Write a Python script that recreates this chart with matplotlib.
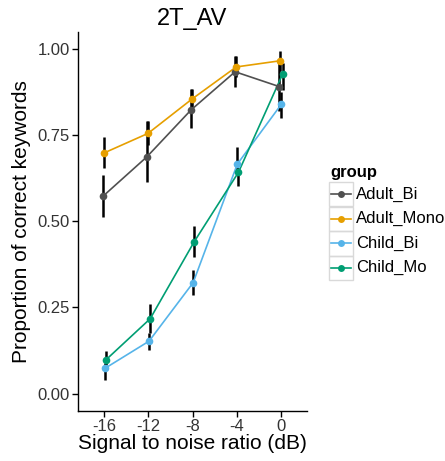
import numpy as np
import matplotlib
matplotlib.use("Agg")
import matplotlib.pyplot as plt
from matplotlib.lines import Line2D
from matplotlib.patches import Rectangle

plt.rcParams["font.family"] = ["Liberation Sans", "DejaVu Sans"]

snr = np.array([-16, -12, -8, -4, 0])
groups = ["Adult_Bi", "Adult_Mono", "Child_Bi", "Child_Mo"]
colors = ["#505050", "#E69F00", "#56B4E9", "#009E73"]
dodge = [-0.15, -0.05, 0.05, 0.15]

mean_adult_bi = [0.572, 0.687, 0.823, 0.934, 0.891]
mean_adult_mono = [0.698, 0.755, 0.855, 0.948, 0.966]
mean_child_bi = [0.073, 0.152, 0.322, 0.666, 0.840]
mean_child_mo = [0.098, 0.217, 0.441, 0.642, 0.927]

lo_adult_bi = [0.512, 0.613, 0.771, 0.890, 0.820]
hi_adult_bi = [0.634, 0.792, 0.884, 0.980, 0.966]
lo_adult_mono = [0.654, 0.720, 0.830, 0.920, 0.937]
hi_adult_mono = [0.745, 0.792, 0.885, 0.980, 0.995]
lo_child_bi = [0.039, 0.125, 0.285, 0.647, 0.800]
hi_child_bi = [0.088, 0.176, 0.360, 0.716, 0.874]
lo_child_mo = [0.082, 0.175, 0.396, 0.603, 0.880]
hi_child_mo = [0.123, 0.259, 0.485, 0.656, 0.960]

means = [mean_adult_bi, mean_adult_mono, mean_child_bi, mean_child_mo]
lows = [lo_adult_bi, lo_adult_mono, lo_child_bi, lo_child_mo]
highs = [hi_adult_bi, hi_adult_mono, hi_child_bi, hi_child_mo]

fig = plt.figure(figsize=(4.45, 4.61), dpi=100)
ax = fig.add_axes([0.176, 0.109, 0.513, 0.822])

for m, lo, hi, c, d in zip(means, lows, highs, colors, dodge):
    x = snr + d
    ax.vlines(x, lo, hi, color="black", lw=1.8, zorder=2)
    ax.plot(x, m, color=c, lw=1.2, zorder=3)
    ax.plot(x, m, "o", color=c, ms=5.5, mec="none", zorder=4)

ax.set_xlim(-18.36, 2.33)
ax.set_ylim(-0.05, 1.05)
ax.set_xticks(snr)
ax.set_xticklabels([str(v) for v in snr])
ax.set_yticks([0, 0.25, 0.5, 0.75, 1.0])
ax.set_yticklabels(["0.00", "0.25", "0.50", "0.75", "1.00"])
for s in ["top", "right"]:
    ax.spines[s].set_visible(False)
for s in ["left", "bottom"]:
    ax.spines[s].set_linewidth(1.0)
ax.tick_params(length=4, width=1, labelsize=12, colors="black", pad=2)
for lab in ax.get_xticklabels() + ax.get_yticklabels():
    lab.set_color("#333333")

ax.set_xlabel("Signal to noise ratio (dB)", fontsize=15, labelpad=0)
ax.set_ylabel("Proportion of correct keywords", fontsize=15, labelpad=5)
ax.set_title("2T_AV", fontsize=17, pad=5)

# legend drawn by hand in figure pixels
W, H = 445.0, 461.0
fig.text(330 / W, 1 - 172 / H, "group", fontsize=12, fontweight="bold",
         va="center", ha="left")
row_h = 24.5
top = 182.0
for i, (g, c) in enumerate(zip(groups, colors)):
    y0 = top + i * row_h
    fig.add_artist(Rectangle((329 / W, 1 - (y0 + row_h) / H), 24 / W, row_h / H,
                             transform=fig.transFigure, fill=False,
                             ec="#d9d9d9", lw=1.0))
    yc = 1 - (y0 + row_h / 2) / H
    fig.add_artist(Line2D([331 / W, 351 / W], [yc, yc], transform=fig.transFigure,
                          color=c, lw=1.2))
    fig.add_artist(Line2D([341 / W], [yc], transform=fig.transFigure,
                          marker="o", color=c, ms=5, mec="none"))
    fig.text(356 / W, yc, g, fontsize=12, va="center", ha="left")

fig.savefig("out.png", dpi=100)
